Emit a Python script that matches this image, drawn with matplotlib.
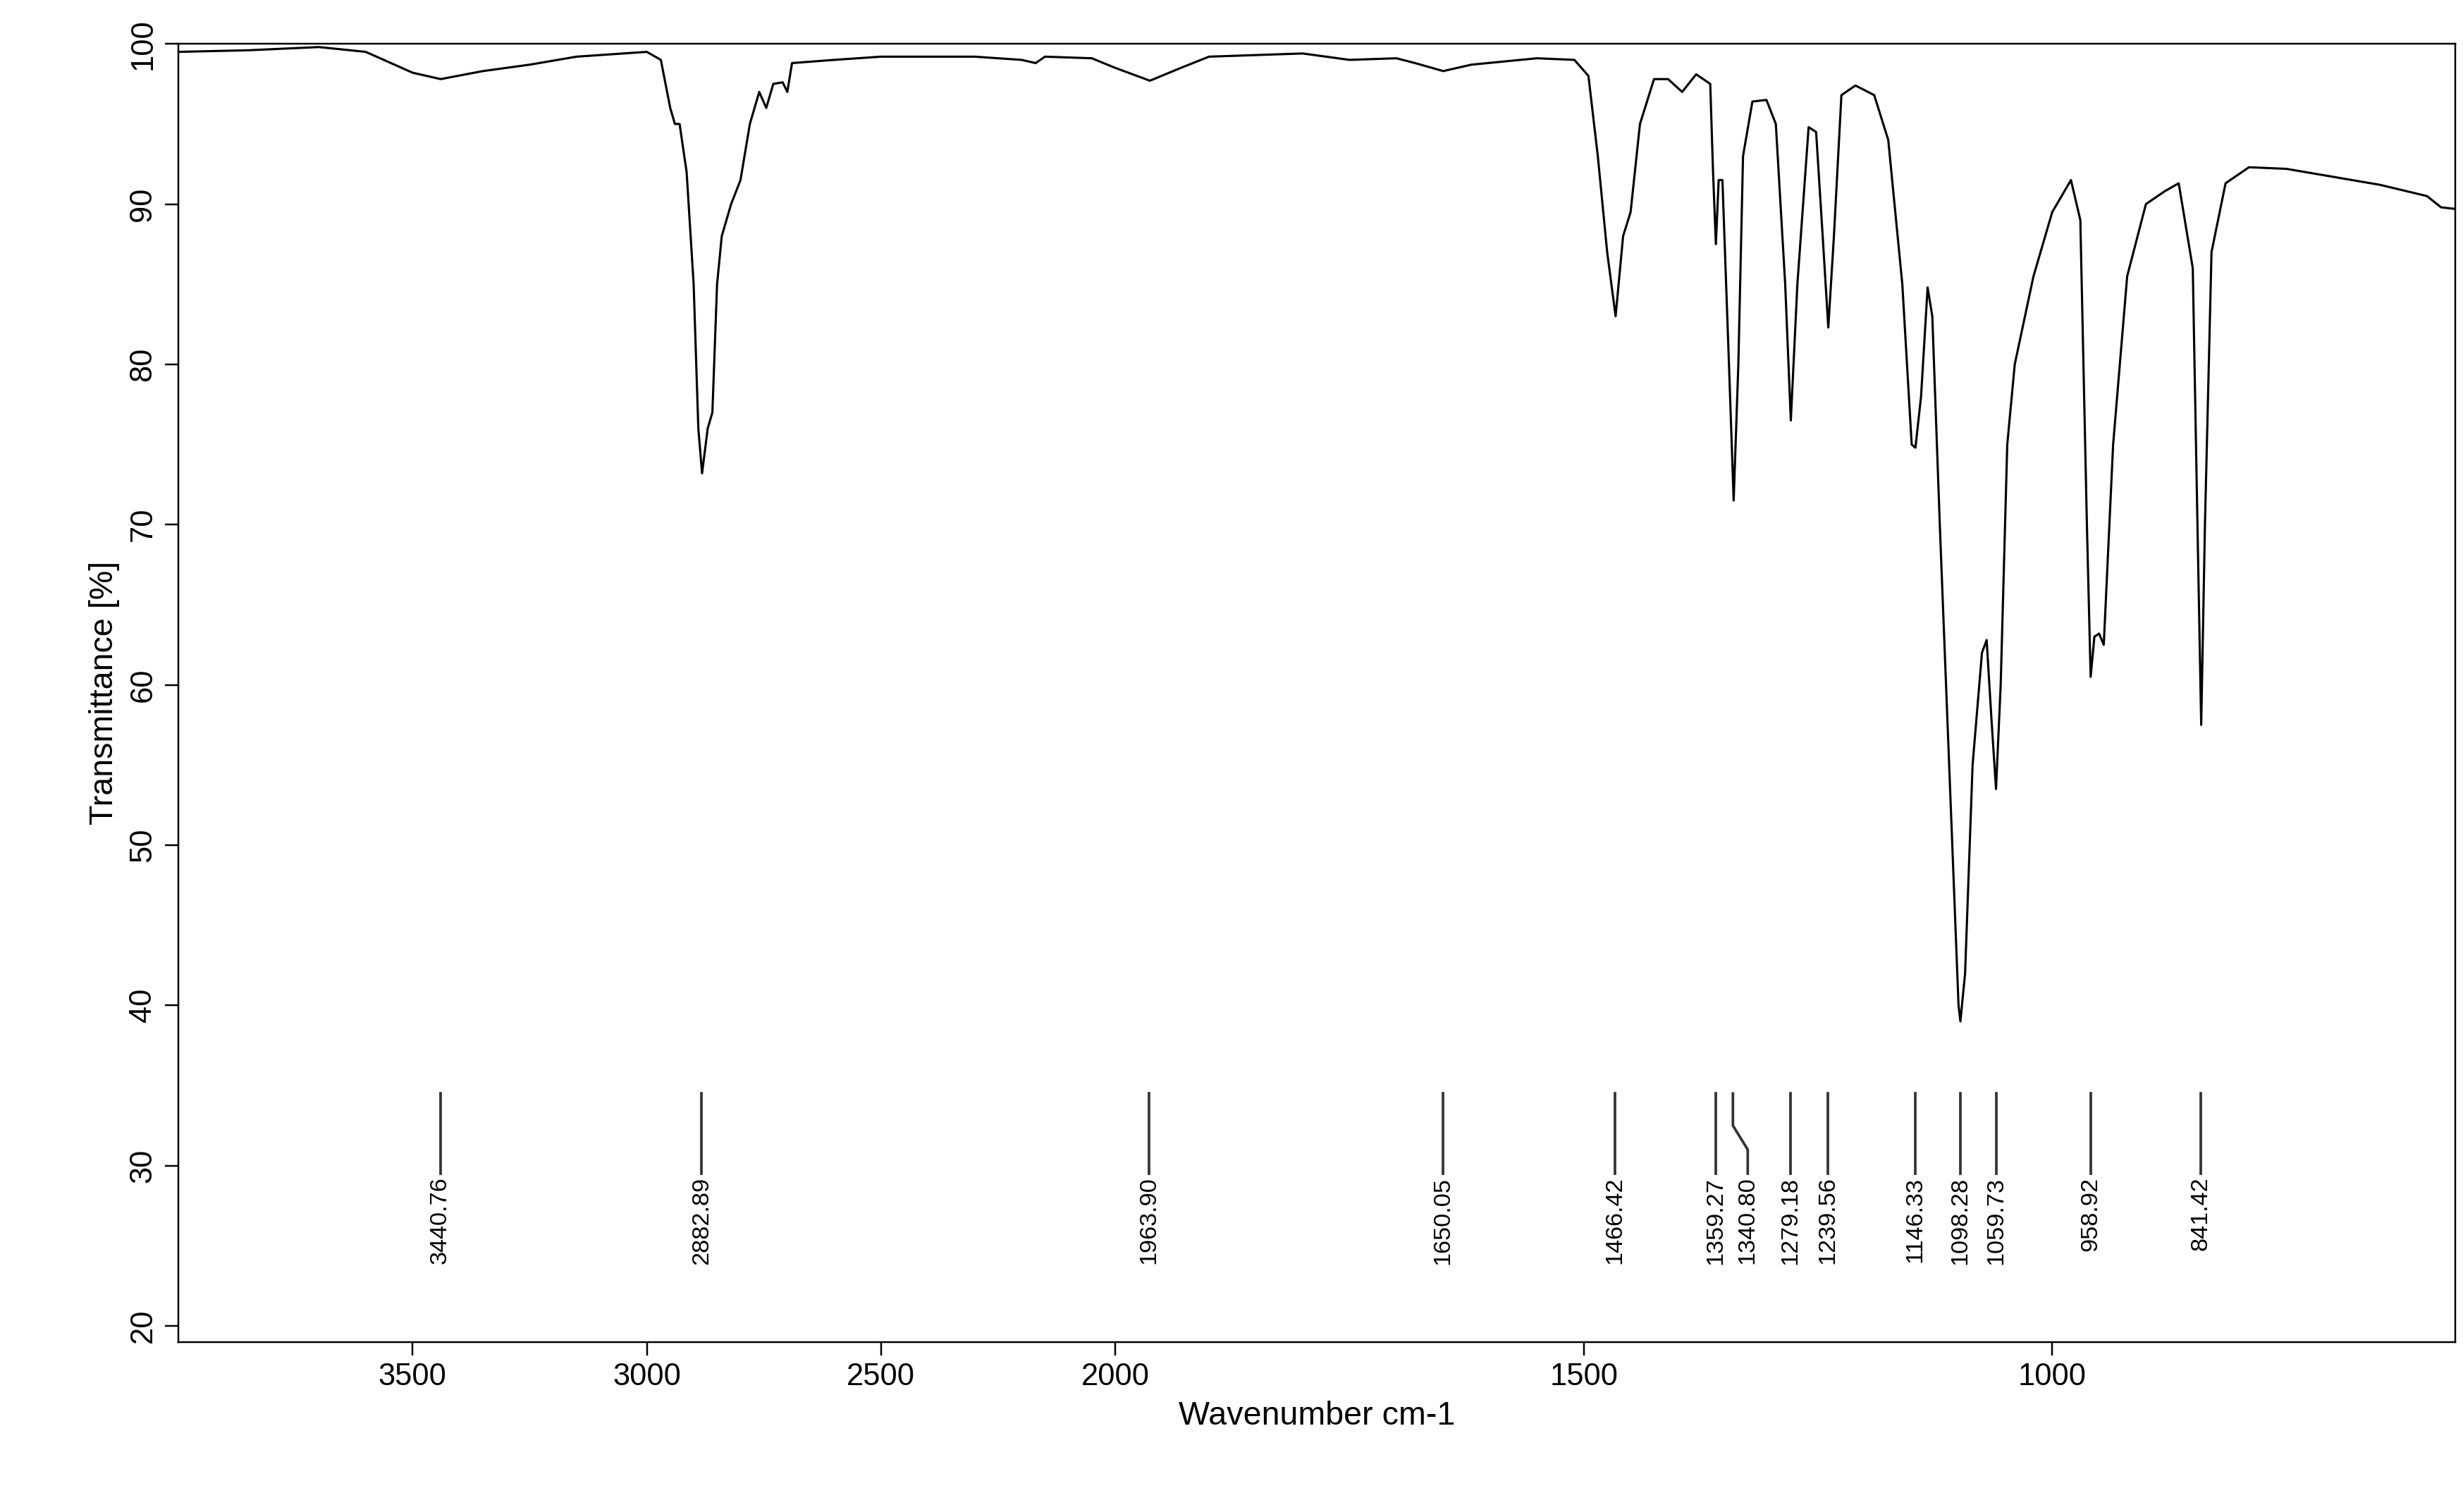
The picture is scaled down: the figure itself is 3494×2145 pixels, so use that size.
import matplotlib
matplotlib.use("Agg")
import matplotlib.pyplot as plt
import numpy as np

wn = [4000,3850,3700,3600,3500,3440,3350,3250,3150,3000,2970,2950,2940,2930,2915,2900,2890,2882,2870,2860,2850,2840,2820,2800,2780,2760,2745,2730,2710,2700,2690,2600,2500,2300,2200,2170,2150,2050,2000,1963,1930,1900,1800,1750,1700,1680,1650,1620,1550,1510,1495,1485,1475,1466,1458,1450,1440,1425,1410,1395,1380,1365,1362,1359,1356,1352,1345,1340,1335,1330,1320,1305,1295,1285,1279,1272,1260,1252,1245,1239,1233,1225,1210,1190,1175,1160,1150,1146,1140,1133,1128,1120,1110,1100,1098,1093,1085,1075,1070,1065,1060,1055,1048,1040,1020,1000,980,970,963,959,955,950,945,935,920,900,880,865,850,845,841,837,830,815,790,750,650,600,585,570]
tr = [99.5,99.6,99.8,99.5,98.2,97.8,98.3,98.7,99.2,99.5,99,96,95,95,92,85,76,73.2,76,77,85,88,90,91.5,95,97,96,97.5,97.6,97,98.8,99,99.2,99.2,99,98.8,99.2,99.1,98.5,97.7,98.5,99.2,99.4,99,99.1,98.8,98.3,98.7,99.1,99,98,93,87,83,88,89.5,95,97.8,97.8,97,98.1,97.5,92,87.5,91.5,91.5,80,71.5,80,93,96.4,96.5,95,85,76.5,85,94.8,94.5,88,82.3,88,96.8,97.4,96.8,94,85,75,74.8,78,84.8,83,70,55,40,39,42,55,62,62.8,58,53.5,60,75,80,85.5,89.5,91.5,89,70,60.5,63,63.2,62.5,75,85.5,90,90.8,91.3,86,70,57.5,70,87,91.3,92.3,92.2,91.2,90.5,89.8,89.7]

peaks = [3440.76,2882.89,1963.90,1650.05,1466.42,1359.27,1340.80,1279.18,1239.56,1146.33,1098.28,1059.73,958.92,841.42]
peak_labels = ["3440.76","2882.89","1963.90","1650.05","1466.42","1359.27","1340.80","1279.18","1239.56","1146.33","1098.28","1059.73","958.92","841.42"]

def fwd(x):
    x = np.asarray(x, dtype=float)
    return np.where(x <= 2000, x, 2000 + (x - 2000) / 2)
def inv(y):
    y = np.asarray(y, dtype=float)
    return np.where(y <= 2000, y, 2000 + (y - 2000) * 2)

plt.rcParams['font.family'] = ['Liberation Sans', 'DejaVu Sans']
fig = plt.figure(figsize=(3494/224, 2145/224), dpi=224)
ax = fig.add_axes([0.0724, 0.1125, 0.9244, 0.8585])
ax.set_xscale('function', functions=(fwd, inv))
ax.plot(wn, tr, color='black', lw=1.0)
ax.set_xlim(4000, 570)
ax.set_ylim(19, 100)
ax.set_xticks([3500,3000,2500,2000,1500,1000])
ax.set_xticklabels(["3500","3000","2500","2000","1500","1000"])
ax.xaxis.set_minor_locator(matplotlib.ticker.NullLocator())
ax.set_yticks([20,30,40,50,60,70,80,90,100])
ax.tick_params(labelsize=14, length=6)
for lab in ax.get_yticklabels():
    lab.set_rotation(90); lab.set_va('center')
ax.set_xlabel("Wavenumber cm-1", fontsize=15)
ax.set_ylabel("Transmittance [%]", fontsize=15)
for p, l in zip(peaks, peak_labels):
    if l == "1340.80":
        ax.plot([p, p, 1325, 1325], [34.5, 32.5, 31, 29.5], color='#333333', lw=1.2)
        tx = 1325
    else:
        ax.plot([p, p], [34.5, 29.5], color='#333333', lw=1.2)
        tx = p
    ax.text(tx, 29.3, l, rotation=90, ha='center', va='top', fontsize=11)
fig.savefig("out.png", dpi=224)
